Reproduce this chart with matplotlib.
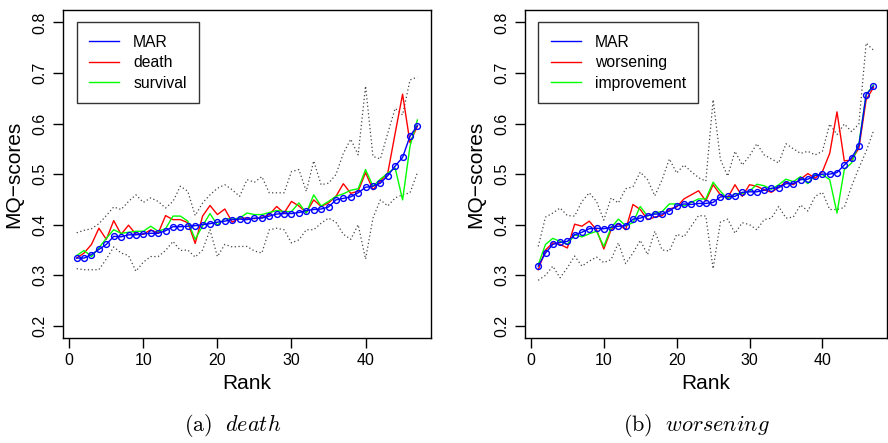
import numpy as np
import matplotlib
matplotlib.use("Agg")
import matplotlib.pyplot as plt

matplotlib.rcParams.update({
    "font.family": ["Liberation Sans", "DejaVu Sans"],
    "mathtext.fontset": "cm",
    "axes.linewidth": 1.0,
})

rank = np.arange(1, 48)

# panel (a): death
mar_a = [0.334, 0.334, 0.341, 0.351, 0.361, 0.377, 0.376, 0.380, 0.380, 0.382,
         0.383, 0.383, 0.388, 0.396, 0.396, 0.397, 0.398, 0.400, 0.402, 0.405,
         0.407, 0.410, 0.411, 0.410, 0.413, 0.413, 0.417, 0.421, 0.422, 0.422,
         0.424, 0.428, 0.430, 0.431, 0.435, 0.449, 0.452, 0.455, 0.463, 0.474,
         0.476, 0.482, 0.497, 0.516, 0.533, 0.575, 0.596]
death = [0.334, 0.344, 0.361, 0.393, 0.371, 0.408, 0.381, 0.399, 0.381, 0.381,
         0.390, 0.383, 0.418, 0.410, 0.410, 0.404, 0.363, 0.417, 0.438, 0.420,
         0.431, 0.405, 0.413, 0.413, 0.412, 0.414, 0.420, 0.436, 0.423, 0.446,
         0.437, 0.424, 0.449, 0.436, 0.443, 0.456, 0.481, 0.462, 0.466, 0.503,
         0.469, 0.486, 0.502, 0.581, 0.658, 0.562, 0.595]
survival = [0.339, 0.349, 0.337, 0.354, 0.373, 0.390, 0.383, 0.385, 0.387, 0.387,
            0.397, 0.387, 0.392, 0.417, 0.417, 0.407, 0.371, 0.398, 0.422, 0.399,
            0.412, 0.411, 0.413, 0.423, 0.420, 0.420, 0.424, 0.428, 0.426, 0.426,
            0.443, 0.423, 0.459, 0.437, 0.446, 0.456, 0.461, 0.468, 0.471, 0.509,
            0.476, 0.490, 0.502, 0.512, 0.449, 0.555, 0.607]
upper_a = [0.384, 0.389, 0.392, 0.402, 0.418, 0.435, 0.430, 0.446, 0.459, 0.444,
           0.453, 0.446, 0.433, 0.446, 0.476, 0.466, 0.418, 0.443, 0.459, 0.472,
           0.479, 0.469, 0.456, 0.489, 0.484, 0.495, 0.463, 0.463, 0.463, 0.505,
           0.509, 0.466, 0.526, 0.479, 0.482, 0.499, 0.541, 0.569, 0.538, 0.674,
           0.535, 0.530, 0.581, 0.630, 0.617, 0.686, 0.692]
lower_a = [0.313, 0.311, 0.311, 0.311, 0.332, 0.356, 0.344, 0.339, 0.308, 0.326,
           0.337, 0.337, 0.349, 0.367, 0.349, 0.350, 0.336, 0.350, 0.390, 0.337,
           0.361, 0.356, 0.357, 0.357, 0.348, 0.344, 0.390, 0.393, 0.390, 0.364,
           0.370, 0.390, 0.390, 0.403, 0.413, 0.405, 0.381, 0.371, 0.400, 0.332,
           0.413, 0.449, 0.437, 0.453, 0.459, 0.463, 0.503]

# panel (b): worsening
mar_b = [0.318, 0.344, 0.361, 0.365, 0.367, 0.380, 0.385, 0.392, 0.393, 0.392,
         0.395, 0.397, 0.398, 0.411, 0.413, 0.418, 0.421, 0.421, 0.427, 0.437,
         0.441, 0.440, 0.442, 0.442, 0.444, 0.455, 0.456, 0.456, 0.464, 0.465,
         0.465, 0.468, 0.472, 0.473, 0.481, 0.481, 0.489, 0.490, 0.497, 0.500,
         0.500, 0.503, 0.518, 0.532, 0.556, 0.657, 0.674]
worsening = [0.311, 0.350, 0.364, 0.361, 0.354, 0.401, 0.397, 0.407, 0.390, 0.352,
             0.390, 0.402, 0.390, 0.440, 0.430, 0.410, 0.415, 0.418, 0.431, 0.435,
             0.451, 0.459, 0.467, 0.447, 0.479, 0.459, 0.453, 0.479, 0.456, 0.479,
             0.476, 0.469, 0.464, 0.474, 0.484, 0.479, 0.490, 0.501, 0.492, 0.505,
             0.541, 0.623, 0.526, 0.528, 0.551, 0.647, 0.671]
improvement = [0.321, 0.361, 0.373, 0.367, 0.361, 0.380, 0.376, 0.382, 0.387, 0.357,
               0.394, 0.411, 0.398, 0.404, 0.436, 0.417, 0.423, 0.426, 0.441, 0.441,
               0.437, 0.444, 0.451, 0.451, 0.484, 0.466, 0.451, 0.461, 0.462, 0.466,
               0.480, 0.477, 0.470, 0.479, 0.490, 0.485, 0.495, 0.481, 0.499, 0.499,
               0.489, 0.423, 0.509, 0.522, 0.560, 0.657, 0.676]
upper_b = [0.357, 0.415, 0.423, 0.433, 0.418, 0.417, 0.446, 0.463, 0.446, 0.409,
           0.453, 0.443, 0.471, 0.475, 0.504, 0.489, 0.457, 0.489, 0.530, 0.502,
           0.518, 0.505, 0.493, 0.486, 0.647, 0.529, 0.496, 0.545, 0.518, 0.536,
           0.560, 0.538, 0.530, 0.522, 0.560, 0.550, 0.541, 0.545, 0.538, 0.545,
           0.599, 0.578, 0.599, 0.584, 0.599, 0.759, 0.745]
lower_b = [0.290, 0.300, 0.318, 0.295, 0.315, 0.338, 0.318, 0.328, 0.336, 0.325,
           0.331, 0.364, 0.323, 0.344, 0.369, 0.341, 0.387, 0.350, 0.348, 0.381,
           0.376, 0.397, 0.418, 0.417, 0.313, 0.405, 0.411, 0.383, 0.404, 0.400,
           0.390, 0.410, 0.413, 0.436, 0.413, 0.415, 0.439, 0.427, 0.456, 0.464,
           0.430, 0.430, 0.434, 0.476, 0.512, 0.545, 0.585]

PANELS = [
    dict(rect=[0.071, 0.237, 0.4144, 0.740], mar=mar_a, s1=death, s2=survival,
         lo=lower_a, hi=upper_a, names=["MAR", "death", "survival"],
         caption=r"$\mathrm{(a)}\ \ \mathit{death}$", cx=0.262),
    dict(rect=[0.591, 0.237, 0.4077, 0.740], mar=mar_b, s1=worsening, s2=improvement,
         lo=lower_b, hi=upper_b, names=["MAR", "worsening", "improvement"],
         caption=r"$\mathrm{(b)}\ \ \mathit{worsening}$", cx=0.784),
]

fig = plt.figure(figsize=(8.88, 4.43), dpi=100)

for p in PANELS:
    ax = fig.add_axes(p["rect"])
    dot = dict(color="#444444", lw=0.9, ls=(0, (1, 2)))
    ax.plot(rank, p["hi"], **dot)
    ax.plot(rank, p["lo"], **dot)
    ax.plot(rank, p["mar"], color="#0000FF", lw=1.0, marker="o", ms=4.2,
            mfc="none", mew=1.0, zorder=5)
    h2, = ax.plot(rank, p["s1"], color="#FF0000", lw=1.0, zorder=3)
    h3, = ax.plot(rank, p["s2"], color="#00FF00", lw=1.0, zorder=4)
    h1, = ax.plot([], [], color="#0000FF", lw=1.0)

    ax.set_xlim(-0.84, 48.84)
    ax.set_ylim(0.176, 0.824)
    ax.set_xticks([0, 10, 20, 30, 40])
    ax.set_yticks([0.2, 0.3, 0.4, 0.5, 0.6, 0.7, 0.8])
    ax.set_yticklabels(["0.2", "0.3", "0.4", "0.5", "0.6", "0.7", "0.8"],
                       rotation=90, va="center")
    ax.tick_params(direction="out", length=7, width=1, labelsize=11.5, pad=4)
    ax.set_xlabel("Rank", fontsize=15, labelpad=4)
    ax.set_ylabel("MQ\u2212scores", fontsize=15, labelpad=7)

    leg = ax.legend([h1, h2, h3], p["names"], loc="upper left",
                    bbox_to_anchor=(1, 0.8), bbox_transform=ax.transData,
                    borderaxespad=0, fontsize=11.3, frameon=True, fancybox=False,
                    edgecolor="black", handlelength=1.9, handletextpad=0.9,
                    labelspacing=0.34, borderpad=0.8)
    leg.get_frame().set_linewidth(1.0)

    fig.text(p["cx"], 0.008, p["caption"], ha="center", va="bottom", fontsize=16)

fig.savefig("out.png", dpi=100)
